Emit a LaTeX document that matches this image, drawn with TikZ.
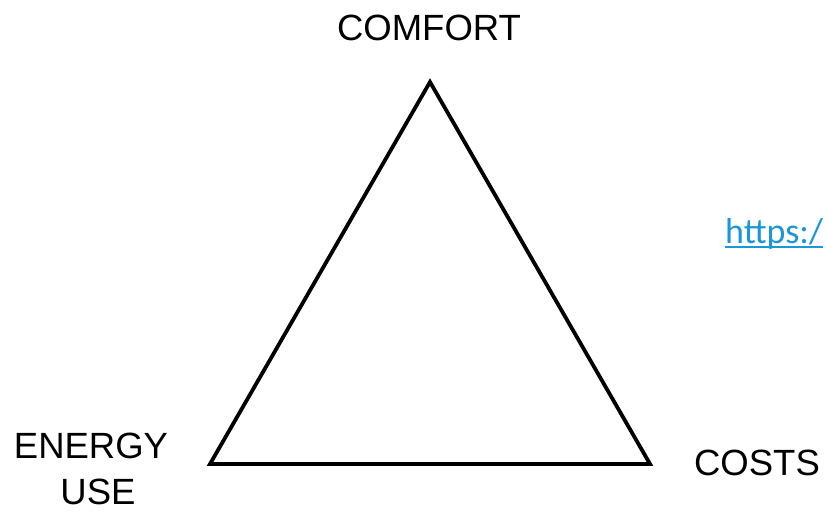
\documentclass[tikz,border=0pt]{standalone}
\usepackage{fontspec}
\usetikzlibrary{calc}
\setmainfont{Liberation Sans}
\newfontfamily\linkfont{Carlito}
\definecolor{linkblue}{RGB}{28,150,215}
\begin{document}
\begin{tikzpicture}[x=1pt,y=-1pt,
  lbl/.style={font=\fontsize{36.5}{46}\selectfont, inner sep=0pt, anchor=base, text=black},
  edge/.style={line width=3.8pt, line join=miter, black}]
\useasboundingbox (0,0) rectangle (826,512);
\coordinate (top) at (430,82);
\coordinate (bl) at (210,464);
\coordinate (br) at (650,464);
\draw[edge] (top) -- (bl) -- (br) -- cycle;
\node[lbl] (comfort) at (429,40) {COMFORT};
\node[lbl] (energy) at (91,458) {ENERGY};
\node[lbl] (use) at (98,504) {USE};
\node[lbl] (costs) at (757,475) {COSTS};
\node[lbl, anchor=base west, text=linkblue, font=\linkfont\fontsize{36}{44}\selectfont] (link) at (725,243) {https:/};
\draw[linkblue, line width=1.8pt] ($(link.base west)+(0,4)$) -- ($(link.base east)+(0,4)$);
\end{tikzpicture}
\end{document}
